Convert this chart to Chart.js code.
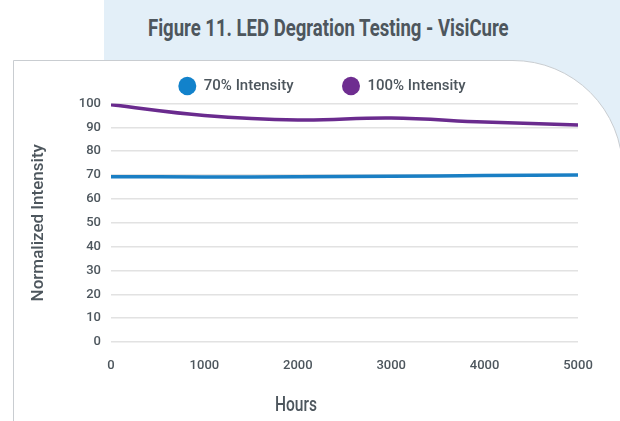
<!DOCTYPE html>
<html>
<head>
<meta charset="utf-8">
<script src="https://cdn.jsdelivr.net/npm/chart.js@4/dist/chart.umd.min.js"></script>
<style>
  html, body { margin: 0; padding: 0; width: 620px; height: 421px; overflow: hidden; background: #fff; }
  #blue { position: absolute; left: 104px; top: 0; width: 516px; height: 421px; background: #e3eff8; }
  #card { position: absolute; left: 13px; top: 60px; width: 610px; height: 420px; background: #fff;
          border: 1.5px solid #c9cdd1; border-top-right-radius: 110px; box-sizing: border-box; }
  .txt { position: absolute; font-family: Roboto, sans-serif; color: #4d565d; white-space: nowrap; transform-origin: center center; }
  #title { top: 14px; font-size: 24px; line-height: 28px; font-weight: 700; }
  #xtitle { top: 392px; font-size: 20px; line-height: 24px; font-weight: 500; }
  #wrap { position: absolute; left: 0; top: 0; width: 620px; height: 421px; }
</style>
</head>
<body>
<div id="blue"></div>
<div id="card"></div>
<div class="txt" id="title">Figure 11. LED Degration Testing - VisiCure</div>
<div id="wrap"><canvas id="chart"></canvas></div>
<div class="txt" id="xtitle">Hours</div>
<script>
// readings taken off the figure
const hours = [0, 1000, 2000, 3000, 4000, 5000];
const intensity70 = [69.3, 69.2, 69.3, 69.5, 69.8, 70.0];
const intensity100 = [99.5, 95.0, 93.1, 93.9, 92.2, 91.0];
const seriesNames = ['70% Intensity', '100% Intensity'];
const yTicks = [0, 10, 20, 30, 40, 50, 60, 70, 80, 90, 100];

// the source uses a condensed face; squeeze the html labels to the same width
function fitText(id, centerX, width) {
  const el = document.getElementById(id);
  const w = el.offsetWidth;
  el.style.left = (centerX - w / 2) + 'px';
  el.style.transform = 'scaleX(' + (width / w) + ')';
}
fitText('title', 328, 361);
fitText('xtitle', 296, 42);

Chart.defaults.font.family = 'Roboto, sans-serif';
Chart.defaults.font.weight = 500;
Chart.defaults.color = '#4d565d';

function pts(ys) {
  return hours.map((h, i) => ({ x: h, y: ys[i] }));
}

const ctx = document.getElementById('chart').getContext('2d');
new Chart(ctx, {
  type: 'line',
  data: {
    datasets: [{
      label: seriesNames[0],
      data: pts(intensity70),
      borderColor: '#1a7fc4',
      backgroundColor: '#1282cb',
      borderWidth: 3.5,
      pointRadius: 0,
      tension: 0.4,
      fill: false
    }, {
      label: seriesNames[1],
      data: pts(intensity100),
      borderColor: '#6a2b8e',
      backgroundColor: '#6e2d90',
      borderWidth: 3.5,
      pointRadius: 0,
      tension: 0.4,
      fill: false
    }]
  },
  options: {
    responsive: true,
    maintainAspectRatio: false,
    animation: false,
    layout: { padding: { left: 27, right: 3, top: 30, bottom: 0 } },
    plugins: {
      legend: {
        maxHeight: 101.7,
        labels: {
          usePointStyle: true,
          pointStyle: 'circle',
          pointStyleWidth: 18,
          boxHeight: 13,
          padding: 48.5,
          color: '#4d565d',
          font: { size: 15, weight: 500 },
          // plain filled dots, no outline
          generateLabels: chart => Chart.defaults.plugins.legend.labels.generateLabels(chart)
            .map(item => ({ ...item, lineWidth: 0 }))
        }
      },
      tooltip: { enabled: false }
    },
    scales: {
      x: {
        type: 'linear',
        min: 0,
        max: 5000,
        ticks: { stepSize: 1000, padding: 7.7, font: { size: 13, weight: 500 }, color: '#4d565d',
                 callback: v => String(v) },
        grid: { display: false },
        border: { display: false },
        afterFit: s => { s.paddingRight = 42; s.height = 79; }
      },
      y: {
        min: 0,
        max: 100,
        afterBuildTicks: s => { s.ticks = yTicks.map(v => ({ value: v })); },
        ticks: { padding: 10, font: { size: 13, weight: 500 }, color: '#4d565d' },
        grid: { color: '#e2e2e2', lineWidth: 1.5, drawTicks: false },
        border: { display: false },
        title: { display: true, text: 'Normalized Intensity', font: { size: 17, weight: 500 }, color: '#4d565d',
                 padding: { top: 2, bottom: 0 } },
        afterFit: s => { s.width = 84; }
      }
    }
  }
});
</script>
</body>
</html>
